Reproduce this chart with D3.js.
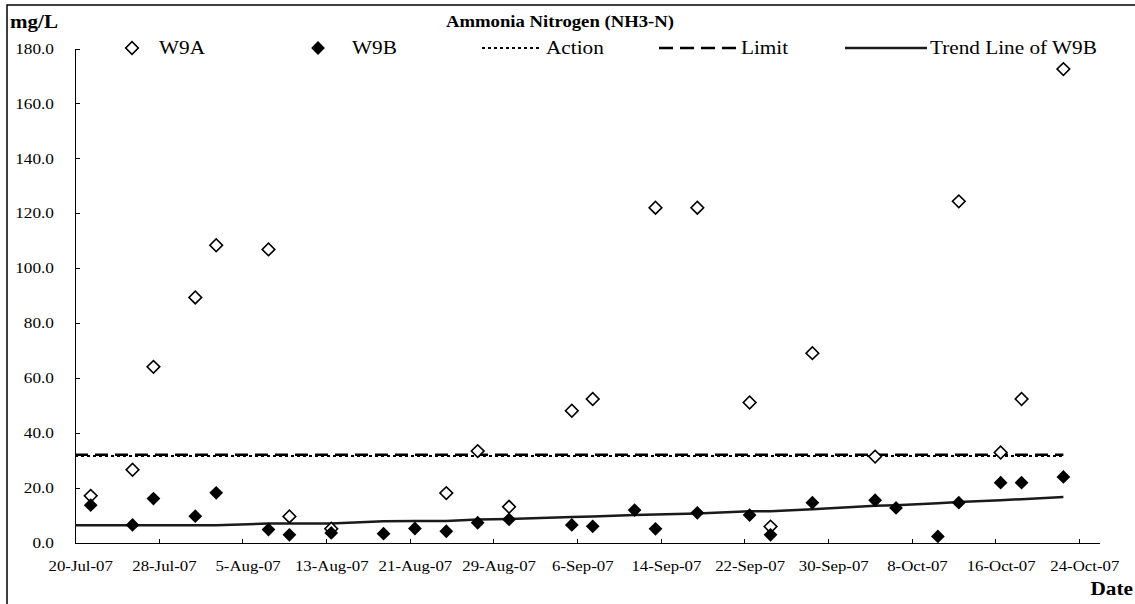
<!DOCTYPE html>
<html>
<head>
<meta charset="utf-8">
<script src="https://cdnjs.cloudflare.com/ajax/libs/d3/7.8.5/d3.min.js"></script>
<style>
  body { margin: 0; background: #fff; }
  svg text { font-family: "Liberation Serif", "Times New Roman", serif; fill: #000; }
  .axis path, .axis line { stroke: #000; shape-rendering: crispEdges; }
  .axis text { font-size: 15px; }
</style>
</head>
<body>
<script>
// sample dates (2007)
var dates = ["21-Jul","25-Jul","27-Jul","31-Jul","2-Aug","7-Aug","9-Aug","13-Aug","18-Aug","21-Aug",
             "24-Aug","27-Aug","30-Aug","5-Sep","7-Sep","11-Sep","13-Sep","17-Sep","22-Sep","24-Sep",
             "28-Sep","4-Oct","6-Oct","10-Oct","12-Oct","16-Oct","18-Oct","22-Oct"];

// W9A values (null where hidden under W9B marker)
var w9a = [17.0, 26.5, 64.0, 89.3, 108.3, 106.8, 9.5, 5.0, null, null,
           18.0, 33.3, 13.0, 48.0, 52.3, null, 122.0, 122.0, 51.0, 5.8,
           69.0, 31.3, null, null, 124.3, 32.8, 52.3, 172.5];

var w9b = [13.6, 6.4, 16.0, 9.6, 18.1, 4.7, 2.8, 3.5, 3.2, 5.1,
           4.1, 7.2, 8.4, 6.4, 5.9, 11.8, 5.0, 10.8, 10.0, 2.8,
           14.5, 15.4, 12.6, 2.2, 14.5, 21.8, 21.8, 23.9];

// trend line of W9B read at each sample date
var trend = [6.3, 6.3, 6.3, 6.3, 6.3, 6.9, 6.9, 6.9, 7.7, 7.8,
             7.8, 8.4, 8.6, 9.3, 9.5, 10.0, 10.2, 10.6, 11.4, 11.4,
             12.1, 13.4, 13.6, 14.3, 14.8, 15.4, 15.8, 16.6];

var actionLevel = 31.5;
var limitLevel = 32.0;

var xTickLabels = ["20-Jul","28-Jul","5-Aug","13-Aug","21-Aug","29-Aug","6-Sep",
                   "14-Sep","22-Sep","30-Sep","8-Oct","16-Oct","24-Oct"];
var yTicks = [0, 20, 40, 60, 80, 100, 120, 140, 160, 180];

var parse = d3.timeParse("%d-%b-%Y");
var toDate = function(s) { return parse(s + "-2007"); };
var DAY = 864e5;

var W = 1135, H = 604;
var plot = {left: 75, right: 1100, top: 48.5, bottom: 542.5};

// the original text is a bit wide, so squeeze it out horizontally
function stretch(sel, k) {
  sel.each(function() {
    var t = d3.select(this);
    var tx = +t.attr("x") || 0, ty = +t.attr("y") || 0;
    t.attr("x", 0).attr("y", 0)
     .attr("transform", "translate(" + tx + "," + ty + ") scale(" + k + ",1)");
  });
}

var svg = d3.select("body").append("svg")
    .attr("width", W)
    .attr("height", H);

// chart frame
svg.append("rect")
    .attr("x", 7).attr("y", 5)
    .attr("width", W).attr("height", H)
    .attr("fill", "none").attr("stroke", "#000").attr("stroke-width", 1.5);

var x = d3.scaleTime()
    .domain([toDate("20-Jul"), toDate("26-Oct")])
    .range([plot.left, plot.right]);
var y = d3.scaleLinear()
    .domain([0, 180])
    .range([plot.bottom, plot.top]);

var half = (x(new Date(+toDate("20-Jul") + DAY)) - x(toDate("20-Jul"))) / 2;
var px = function(s) { return x(toDate(s)) + half; };

// y axis (ticks inside)
var yAxis = svg.append("g")
    .attr("class", "axis")
    .attr("transform", "translate(" + plot.left + ",0)")
    .call(d3.axisRight(y).tickValues(yTicks).tickSize(5).tickFormat(d3.format(".1f")));
yAxis.select(".domain").attr("d", "M0.5," + plot.top + "V" + plot.bottom);
yAxis.selectAll("text")
    .attr("x", -21)
    .attr("text-anchor", "end")
    .call(stretch, 1.15);

// x axis (ticks inside)
var xAxis = svg.append("g")
    .attr("class", "axis")
    .attr("transform", "translate(0," + plot.bottom + ")")
    .call(d3.axisTop(x).tickValues(xTickLabels.map(toDate)).tickSize(4)
      .tickFormat(d3.timeFormat("%-d-%b-%y")));
xAxis.select(".domain").attr("d", "M" + plot.left + ",0.5H" + plot.right);
xAxis.selectAll("text")
    .attr("y", 28)
    .attr("dy", 0)
    .attr("x", half)
    .call(stretch, 1.12);

// reference lines
var refStart = x.domain()[0], refEnd = px("22-Oct");
svg.append("line")
    .attr("x1", x(refStart)).attr("x2", refEnd)
    .attr("y1", y(limitLevel)).attr("y2", y(limitLevel))
    .attr("stroke", "#000").attr("stroke-width", 2.5)
    .attr("stroke-dasharray", "13,7");
svg.append("line")
    .attr("x1", x(refStart)).attr("x2", refEnd)
    .attr("y1", y(actionLevel)).attr("y2", y(actionLevel))
    .attr("stroke", "#000").attr("stroke-width", 2)
    .attr("stroke-dasharray", "3,3");

// trend line
var trendPts = [[plot.left, y(trend[0])]].concat(dates.map(function(d, i) { return [px(d), y(trend[i])]; }));
svg.append("path")
    .attr("d", d3.line()(trendPts))
    .attr("fill", "none")
    .attr("stroke", "#1a1a1a")
    .attr("stroke-width", 2.5);

var diamond = d3.symbol().type(d3.symbolSquare).size(80);
var solidDiamond = d3.symbol().type(d3.symbolSquare).size(95);

// W9A open diamonds
svg.append("g").selectAll("path")
    .data(dates.map(function(d, i) { return {d: d, v: w9a[i]}; }).filter(function(p) { return p.v != null; }))
    .join("path")
    .attr("d", diamond)
    .attr("transform", function(p) { return "translate(" + px(p.d) + "," + y(p.v) + ") rotate(45)"; })
    .attr("fill", "#fff")
    .attr("stroke", "#000")
    .attr("stroke-width", 1.6);

// W9B filled diamonds
svg.append("g").selectAll("path")
    .data(dates.map(function(d, i) { return {d: d, v: w9b[i]}; }))
    .join("path")
    .attr("d", solidDiamond)
    .attr("transform", function(p) { return "translate(" + px(p.d) + "," + y(p.v) + ") rotate(45)"; })
    .attr("fill", "#000");

// titles
svg.append("text")
    .attr("x", 560).attr("y", 27)
    .attr("text-anchor", "middle")
    .style("font-size", "17px").style("font-weight", "bold")
    .text("Ammonia Nitrogen (NH3-N)")
    .call(stretch, 1.1);
svg.append("text")
    .attr("x", 10).attr("y", 28)
    .style("font-size", "18px").style("font-weight", "bold")
    .text("mg/L")
    .call(stretch, 1.17);
svg.append("text")
    .attr("x", 1133).attr("y", 595)
    .attr("text-anchor", "end")
    .style("font-size", "19px").style("font-weight", "bold")
    .text("Date")
    .call(stretch, 1.12);

// legend
var ly = 48;
var leg = svg.append("g").style("font-size", "18px");
leg.append("path").attr("d", diamond)
    .attr("transform", "translate(132," + ly + ") rotate(45)")
    .attr("fill", "#fff").attr("stroke", "#000").attr("stroke-width", 1.6);
leg.append("text").attr("x", 159).attr("y", ly + 6).text("W9A");
leg.append("path").attr("d", solidDiamond)
    .attr("transform", "translate(318," + ly + ") rotate(45)")
    .attr("fill", "#000");
leg.append("text").attr("x", 352).attr("y", ly + 6).text("W9B");
leg.append("line").attr("x1", 482).attr("x2", 540).attr("y1", ly).attr("y2", ly)
    .attr("stroke", "#000").attr("stroke-width", 2).attr("stroke-dasharray", "3,3");
leg.append("text").attr("x", 546).attr("y", ly + 6).text("Action");
leg.append("line").attr("x1", 659).attr("x2", 738).attr("y1", ly).attr("y2", ly)
    .attr("stroke", "#000").attr("stroke-width", 2.5).attr("stroke-dasharray", "14,7");
leg.append("text").attr("x", 741).attr("y", ly + 6).text("Limit");
leg.append("line").attr("x1", 845).attr("x2", 927).attr("y1", ly).attr("y2", ly)
    .attr("stroke", "#1a1a1a").attr("stroke-width", 2.5);
leg.append("text").attr("x", 930).attr("y", ly + 6).text("Trend Line of W9B");
leg.selectAll("text").call(stretch, 1.18);
</script>
</body>
</html>
